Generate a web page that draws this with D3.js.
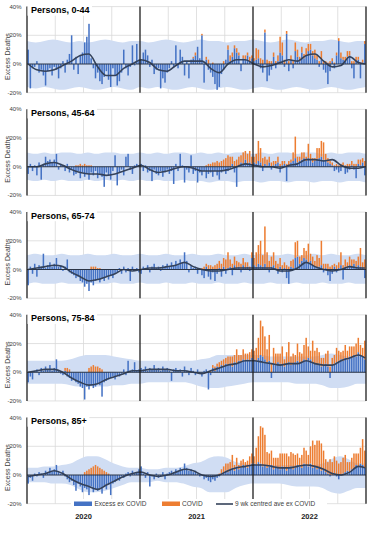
<!DOCTYPE html>
<html><head><meta charset="utf-8">
<script src="https://cdn.jsdelivr.net/npm/d3@7"></script>
<style>body{margin:0;background:#fff}svg{display:block}text{font-family:"Liberation Sans",Arial,sans-serif}</style>
</head><body><svg id="c" width="374" height="537"></svg>
<script>
const titles = ["Persons, 0-44","Persons, 45-64","Persons, 65-74","Persons, 75-84","Persons, 85+"];
const yearLabels = ["2020","2021","2022"];
const yTicks = [40,20,0,-20];
const yTickLabels = ["40%","20%","0%","-20%"];
const yAxisTitle = "Excess Deaths";
const legendLabels = ["Excess ex COVID","COVID","9 wk centred ave ex COVID"];
const weekIndex = d3.range(156);
const aveWeeks = [0,4,8,12,16,20,24,28,32,36,40,44,48,52,56,60,64,68,72,76,80,84,88,92,96,100,104,108,112,116,120,124,128,132,136,140,144,148,152,155];
const bandWeeks = [0,4,8,12,16,20,24,28,32,36,40,44,48,52,56,60,64,68,72,76,80,84,88,92,96,100,104,108,112,116,120,124,128,132,136,140,144,148,152,156];

// ---- Persons 0-44
const ex_0_44 = [
10,-17,-3,-2,2,-6,-4,-8,-15,-5,-3,-8,-2,-4,-10,-3,2,-6,3,7,20,-4,5,-7,6,8,15,19,28,4,-3,-10,-6,-12,-14,-9,-5,-11,-16,-3,-8,-15,-12,-6,10,-3,-8,-2,13,-1,14,3,
3,8,10,6,-2,3,-7,-4,-3,-17,-10,-13,-6,-3,2,-2,13,-3,10,5,-8,2,-10,3,4,6,12,4,20,-13,3,-4,-6,-9,-14,-18,-16,-7,-4,3,10,2,5,11,8,6,-5,4,3,6,2,4,
2,3,4,-3,-6,22,-12,-8,-4,5,-3,2,8,6,-2,21,-5,3,-3,9,5,2,8,4,6,9,10,6,4,3,-2,3,-4,-6,-14,-5,2,-3,6,16,4,3,2,5,6,-3,-10,2,3,-10,1,14];
const covid_0_44 = [
0,0,0,0,0,0,0,0,0,0,0,0,0,0,0,0,0,0,0,0,0,0,0,0,0,0,0,0,0,0,0,0,0,0,0,0,0,0,0,0,0,0,0,0,0,0,0,0,0,0,0,0,
0,0,0,0,0,0,0,0,0,0,0,0,0,0,0,0,0,0,0,0,0,0,0,0,1,2,0,0,1,0,2,3,0,1,0,0,0,0,2,0,3,4,3,2,3,2,0,2,3,2,3,2,
2,8,6,4,3,2,3,2,2,3,2,4,11,9,3,2,2,3,2,6,5,3,4,3,5,5,4,3,6,3,2,6,2,2,1,2,2,1,2,2,4,2,3,4,3,2,2,3,2,1,2,2];
const ave_0_44 = [0,-4,-5,-4,-1,2,6,7,-2,-8,-8,-3,0,3,1,-4,-5,-1,2,2,2,-3,-6,0,3,3,0,-2,-1,1,3,2,6,7,2,-2,-1,5,1,0];
const hi_0_44 = [16,15,16,17,16,15,16,15,16,17,16,15,16,16,15,16,17,16,15,16,17,16,16,15,16,16,17,16,15,16,17,16,15,16,16,17,16,15,16,16];
const lo_0_44 = [-16,-17,-16,-17,-18,-17,-16,-17,-18,-17,-16,-17,-18,-16,-17,-16,-17,-18,-17,-16,-17,-18,-17,-16,-17,-18,-17,-16,-17,-18,-17,-16,-17,-18,-17,-16,-17,-18,-17,-16];

// ---- Persons 45-64
const ex_45_64 = [
-5,2,-3,1,-6,3,-9,2,7,4,5,3,5,9,-2,2,1,-3,2,-4,-2,-6,-5,-3,-8,-4,-7,-5,-9,-4,-6,-3,-8,-5,-7,-14,-4,-6,-9,-3,8,-13,-4,-2,-6,7,9,-2,-5,1,2,1,
2,-3,1,-4,-3,-10,-2,-5,-6,-3,-7,-4,-2,-5,-3,-12,2,-3,9,1,-11,-2,-4,8,-5,-3,-11,-4,-6,-3,-8,-5,-4,-7,-3,-6,-9,-4,-2,-5,-3,-1,2,-4,-14,1,3,2,5,2,3,2,
3,2,4,3,-3,2,1,3,-2,1,2,3,-4,1,2,-10,1,3,4,6,3,4,5,6,4,6,5,3,4,5,6,7,5,4,3,2,1,-3,-2,-4,-3,1,-5,-4,-2,1,-2,-8,2,1,3,-6];
const covid_45_64 = [
0,0,0,0,0,0,0,0,0,0,0,0,0,0,0,0,0,0,0,0,0,0,1,1,2,1,2,1,1,1,0,0,0,0,0,0,0,0,0,0,0,0,0,0,0,0,0,0,0,0,0,0,
0,0,0,0,0,0,0,0,0,0,0,0,0,0,0,0,0,0,0,0,0,0,0,0,0,0,0,0,0,0,1,2,2,3,3,4,3,4,5,6,8,7,5,4,5,6,5,8,6,7,8,5,
4,7,14,10,6,5,4,4,3,3,2,4,2,3,2,2,3,2,6,15,4,3,5,4,3,10,4,3,2,8,7,11,12,5,3,2,2,1,2,1,2,2,1,2,2,3,2,2,3,4,3,4];
const ave_45_64 = [0,0,2,3,1,-2,-4,-5,-5,-6,-5,-3,-1,1,-2,-4,-3,-1,0,-1,-3,-3,-3,-2,0,2,1,0,0,-1,1,2,5,5,4,5,1,-1,-1,0];
const hi_45_64 = [10,9,10,9,10,10,9,10,9,10,10,9,9,10,9,10,9,10,10,9,10,9,10,9,10,10,9,10,9,10,10,9,10,10,9,10,9,10,10,9];
const lo_45_64 = [-9,-10,-9,-10,-9,-10,-10,-9,-10,-9,-10,-9,-10,-9,-10,-9,-10,-10,-9,-10,-10,-11,-10,-10,-11,-10,-10,-11,-10,-10,-11,-10,-10,-11,-10,-10,-11,-10,-10,-11];

// ---- Persons 65-74
const ex_65_74 = [
-11,2,-3,4,-5,3,2,11,1,3,5,2,4,8,2,3,-1,2,7,-2,-3,-4,-6,-5,-8,-9,-12,-10,-15,-9,-11,-8,-7,-9,-6,-8,-5,-7,-4,-6,-3,-2,1,-3,2,-2,1,-8,2,-1,1,-2,
-3,2,1,3,-2,2,4,1,2,-1,3,2,4,2,5,3,6,4,7,5,12,6,-2,3,1,2,-3,1,-4,-6,2,-5,-7,-2,-8,-3,1,-5,2,-3,1,2,-4,3,1,2,-2,3,1,2,-1,8,
3,2,4,3,2,4,1,-2,2,3,1,-3,2,-2,1,-6,-10,2,1,8,9,4,6,8,7,5,6,3,2,1,2,3,-2,1,-4,-8,-3,2,-2,1,3,-7,2,1,3,2,4,2,3,2,1,-6];
const covid_65_74 = [
0,0,0,0,0,0,0,0,0,0,0,0,0,0,0,0,0,0,0,0,0,0,0,0,0,0,0,0,0,2,2,2,1,1,0,0,0,0,0,0,0,0,0,0,0,0,0,0,0,0,0,0,
0,0,0,0,0,0,0,0,0,0,0,0,0,0,0,0,0,0,0,0,0,0,0,0,0,0,0,0,1,2,2,3,3,2,3,4,5,4,6,7,11,5,4,6,5,3,4,5,4,3,2,4,
5,10,13,17,8,26,11,6,7,9,5,4,6,3,4,3,2,4,6,11,11,5,4,7,6,13,5,6,4,9,6,17,4,3,4,2,3,2,3,4,9,3,5,4,6,5,3,4,6,13,4,7];
const ave_65_74 = [0,1,2,3,2,-2,-5,-8,-7,-5,-3,0,-1,0,1,1,2,3,5,2,0,-1,-1,0,1,1,1,1,1,-1,-1,1,5,2,0,-1,0,2,1,1];
const hi_65_74 = [10,11,10,10,11,10,10,11,10,10,11,10,10,11,10,10,11,10,10,11,10,10,11,10,10,11,10,11,10,10,11,10,10,11,10,11,10,10,11,10];
const lo_65_74 = [-10,-9,-10,-10,-9,-10,-10,-9,-10,-10,-9,-10,-10,-9,-10,-10,-9,-10,-10,-9,-10,-10,-9,-10,-10,-9,-10,-10,-9,-10,-10,-9,-10,-10,-9,-10,-10,-9,-10,-10];

// ---- Persons 75-84
const ex_75_84 = [
-7,-3,-5,1,2,-2,3,1,4,2,5,1,3,9,1,-1,-2,1,-3,-4,-6,-5,-7,-8,-10,-11,-19,-10,-12,-9,-11,-10,-8,-9,-17,-7,-6,-5,-4,-3,-5,-2,-3,-1,2,-2,8,1,2,7,1,2,
3,2,4,1,3,2,5,2,3,1,4,2,3,1,-6,2,3,1,2,-3,4,1,-2,3,1,-2,2,-1,-3,1,2,-12,-2,3,1,4,3,5,4,6,5,6,4,7,6,8,7,9,8,9,8,10,
9,8,10,12,11,9,7,8,-4,6,5,7,6,5,4,6,7,5,6,7,8,6,7,9,8,10,9,7,6,5,6,4,5,6,4,-4,5,6,7,8,9,8,10,9,11,10,12,11,14,12,11,9];
const covid_75_84 = [
0,0,0,0,0,0,0,0,0,0,0,0,0,0,0,0,0,2,3,2,0,0,0,0,0,0,0,0,3,4,5,4,4,3,2,0,0,0,0,0,0,0,0,0,0,0,0,0,0,0,0,0,
0,0,0,0,0,0,0,0,0,0,0,0,0,0,0,0,0,0,0,0,0,0,0,0,0,0,0,0,0,0,0,0,1,2,3,2,4,3,5,4,6,5,7,5,10,4,5,7,5,4,6,6,
6,9,14,24,21,16,9,18,6,11,8,6,7,13,5,8,14,6,7,5,12,8,6,10,16,8,6,15,9,12,8,6,5,7,11,4,5,6,10,7,5,7,9,6,7,8,6,9,10,7,6,13];
const ave_75_84 = [0,1,2,2,0,-4,-7,-9,-8,-5,-3,-1,1,1,2,2,2,1,1,0,-1,1,3,5,6,8,8,7,6,5,6,6,8,6,5,5,8,10,12,10];
const hi_75_84 = [8,8,8,8,8,9,11,12,12,12,11,10,9,8,8,8,8,8,8,8,9,10,12,12,12,12,12,12,11,11,11,11,11,11,12,13,12,11,11,11];
const lo_75_84 = [-8,-8,-8,-8,-8,-9,-10,-10,-10,-10,-9,-9,-8,-8,-7,-7,-7,-7,-7,-8,-10,-11,-11,-10,-9,-8,-7,-7,-7,-7,-7,-8,-8,-8,-9,-11,-11,-10,-8,-8];

// ---- Persons 85+
const ex_85 = [
-6,-2,-4,1,-1,2,1,-2,3,2,5,3,4,7,2,1,3,-1,-3,-5,-4,-7,-11,-6,-8,-12,-9,-10,-14,-8,-12,-10,-11,-9,-13,-8,-10,-7,-14,-6,-5,-3,-4,-1,-2,1,2,-1,3,1,2,4,
6,1,-2,2,-8,-1,-3,1,-2,-1,2,-3,1,2,3,2,4,3,5,4,8,5,3,4,2,3,1,-1,0,-3,-2,-4,-5,-3,-4,-2,-1,1,2,3,2,4,5,3,6,4,5,7,6,5,7,8,
8,7,9,8,6,7,5,6,7,4,6,5,4,6,5,3,5,6,4,5,7,6,5,8,7,6,8,5,6,4,5,3,4,2,1,-1,0,1,-1,-3,0,1,2,3,2,4,5,7,6,8,7,5];
const covid_85 = [
0,0,0,0,0,0,0,0,0,0,0,0,0,0,0,0,0,0,0,0,0,0,0,0,0,0,2,3,4,5,6,7,6,5,4,3,2,1,0,0,0,0,0,0,0,0,0,0,0,0,0,0,
0,0,0,0,0,0,0,0,0,0,0,0,0,0,0,0,0,0,0,0,0,0,0,0,0,0,0,0,0,0,0,0,0,0,0,0,1,3,4,5,6,5,9,4,6,3,5,4,3,5,6,7,
5,12,18,26,27,21,11,9,10,8,6,7,11,9,10,12,8,10,11,9,8,6,9,11,10,8,12,19,15,20,19,19,13,9,8,11,9,12,10,8,9,11,12,6,7,8,10,8,9,11,18,12];
const ave_85 = [-1,0,1,3,1,-3,-6,-8,-10,-7,-4,-1,1,2,0,-1,0,2,4,3,0,-1,0,3,5,6,7,7,6,5,5,6,7,6,4,1,0,2,6,5];
const hi_85 = [5,5,6,6,7,8,11,13,13,11,8,6,5,5,4,4,5,5,6,8,9,12,13,12,9,8,7,7,7,7,7,7,7,7,8,11,13,11,8,8];
const lo_85 = [-5,-5,-5,-6,-6,-7,-10,-12,-12,-11,-9,-7,-5,-5,-5,-4,-5,-5,-6,-8,-9,-12,-12,-12,-9,-7,-6,-6,-6,-6,-7,-8,-8,-8,-9,-12,-13,-11,-9,-9];

const panels = [
  {title:titles[0], ex:ex_0_44, covid:covid_0_44, ave:ave_0_44, hi:hi_0_44, lo:lo_0_44},
  {title:titles[1], ex:ex_45_64, covid:covid_45_64, ave:ave_45_64, hi:hi_45_64, lo:lo_45_64},
  {title:titles[2], ex:ex_65_74, covid:covid_65_74, ave:ave_65_74, hi:hi_65_74, lo:lo_65_74},
  {title:titles[3], ex:ex_75_84, covid:covid_75_84, ave:ave_75_84, hi:hi_75_84, lo:lo_75_84},
  {title:titles[4], ex:ex_85, covid:covid_85, ave:ave_85, hi:hi_85, lo:lo_85}
];

const COL = {blue:"#4472C4", orange:"#ED7D31", line:"#34425A", band:"#D0DDF3", grid:"#D9D9D9", axis:"#1E1E1E"};
const X0 = 27, X1 = 366;
const svg = d3.select("#c");
const xb = d3.scaleBand().domain(weekIndex).range([X0, X1]).paddingInner(0.3).paddingOuter(0.2);
const xl = d3.scaleLinear().domain([0, 156]).range([X0, X1]);
const quarterTicks = d3.range(1, 12).filter(q => q % 4 !== 0);

panels.forEach((p, k) => {
  const zero = 64 + 102.75 * k;
  const y = d3.scaleLinear().domain([-20, 40]).range([zero + 28.7, zero - 57.4]);
  const g = svg.append("g");

  g.selectAll("line.hg").data(yTicks.filter(t => t !== 0)).join("line")
    .attr("x1", X0).attr("x2", X1).attr("y1", d => y(d)).attr("y2", d => y(d))
    .attr("stroke", COL.grid).attr("stroke-width", 0.8);
  g.selectAll("line.vg").data(quarterTicks).join("line")
    .attr("x1", d => xl(d * 13)).attr("x2", d => xl(d * 13))
    .attr("y1", y(40)).attr("y2", y(-20))
    .attr("stroke", COL.grid).attr("stroke-width", 0.8);

  const area = d3.area()
    .x((d, i) => xl(bandWeeks[i]))
    .y0((d, i) => y(p.lo[i]))
    .y1(d => y(d))
    .curve(d3.curveMonotoneX);
  g.append("path").datum(p.hi).attr("d", area).attr("fill", COL.band);

  g.selectAll("rect.ex").data(p.ex).join("rect")
    .attr("x", (d, i) => xb(i)).attr("width", xb.bandwidth())
    .attr("y", d => y(Math.max(0, d)))
    .attr("height", d => Math.abs(y(d) - y(0)))
    .attr("fill", COL.blue);
  g.selectAll("rect.cv").data(p.covid).join("rect")
    .attr("x", (d, i) => xb(i)).attr("width", xb.bandwidth())
    .attr("y", (d, i) => y(Math.max(0, p.ex[i]) + d))
    .attr("height", (d, i) => Math.abs(y(Math.max(0, p.ex[i]) + d) - y(Math.max(0, p.ex[i]))))
    .attr("fill", COL.orange);

  const line = d3.line()
    .x((d, i) => xl(aveWeeks[i] + 0.5))
    .y(d => y(d))
    .curve(d3.curveMonotoneX);
  g.append("path").datum(p.ave).attr("d", line)
    .attr("fill", "none").attr("stroke", COL.line).attr("stroke-width", 1.6);

  g.append("line").attr("x1", X0).attr("x2", X1).attr("y1", y(0)).attr("y2", y(0))
    .attr("stroke", "#2A3446").attr("stroke-width", 1);

  g.selectAll("line.yr").data([0, 52, 104, 156]).join("line")
    .attr("x1", d => xl(d)).attr("x2", d => xl(d))
    .attr("y1", y(40)).attr("y2", y(-20))
    .attr("stroke", COL.axis).attr("stroke-width", 1.3);

  const t = g.append("text").attr("x", 31).attr("y", y(40) + 6.6)
    .attr("font-size", 9).attr("font-weight", "bold").attr("fill", "#000").text(p.title);
  const bb = t.node().getBBox();
  g.insert("rect", "text").attr("x", bb.x - 3.5).attr("y", bb.y - 1).attr("width", bb.width + 6)
    .attr("height", bb.height + 1.5).attr("fill", "#fff");

  g.selectAll("text.tk").data(yTicks).join("text")
    .attr("x", 21.5).attr("y", d => y(d) + 2)
    .attr("text-anchor", "end").attr("font-size", 6).attr("fill", "#404040")
    .text((d, i) => yTickLabels[i]);

  g.append("text").attr("transform", `translate(9.5,${(y(40) + y(-20)) / 2 + 7}) rotate(-90)`)
    .attr("text-anchor", "middle").attr("font-size", 7).attr("fill", "#404040").text(yAxisTitle);
});

const ly = 504;
const lg = svg.append("g");
lg.append("rect").attr("x", 71).attr("y", ly - 5).attr("width", 256).attr("height", 10).attr("fill", "#fff");
lg.append("rect").attr("x", 74).attr("y", ly - 2.5).attr("width", 18).attr("height", 4.5).attr("fill", COL.blue);
lg.append("text").attr("x", 94.5).attr("y", ly + 2.3).attr("font-size", 6.5).attr("fill", "#404040").text(legendLabels[0]);
lg.append("rect").attr("x", 162).attr("y", ly - 2.5).attr("width", 18).attr("height", 4.5).attr("fill", COL.orange);
lg.append("text").attr("x", 182).attr("y", ly + 2.3).attr("font-size", 6.5).attr("fill", "#404040").text(legendLabels[1]);
lg.append("line").attr("x1", 216).attr("x2", 233).attr("y1", ly).attr("y2", ly).attr("stroke", COL.line).attr("stroke-width", 1.6);
lg.append("text").attr("x", 235).attr("y", ly + 2.3).attr("font-size", 6.5).attr("fill", "#404040").text(legendLabels[2]);

svg.selectAll("text.year").data(yearLabels).join("text")
  .attr("x", (d, i) => xl(i * 52 + 26)).attr("y", 518.5)
  .attr("text-anchor", "middle").attr("font-size", 7.5).attr("font-weight", "bold").attr("fill", "#222")
  .text(d => d);
</script></body></html>
